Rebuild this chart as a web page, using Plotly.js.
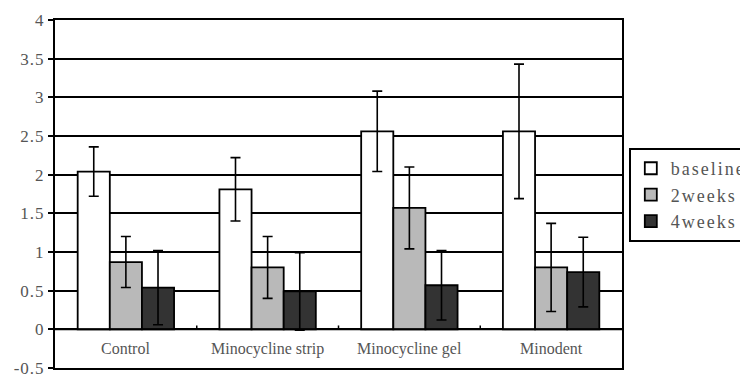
<!DOCTYPE html>
<html><head><meta charset="utf-8">
<script src="https://cdn.plot.ly/plotly-3.0.1.min.js"></script>
<style>
html,body{margin:0;padding:0;background:#fff}
#chart{width:740px;height:381px}
#chart text{font-family:"Liberation Serif",serif !important}
.ytick text{letter-spacing:1px}
.legendtext{letter-spacing:2px}
</style>
</head><body><div id="chart"></div>
<script>
const categories = ["Control", "Minocycline strip", "Minocycline gel", "Minodent"];
const seriesNames = ["baseline", "2weeks", "4weeks"];
const baseline = [2.04, 1.81, 2.56, 2.56];
const baselineErr = [0.32, 0.41, 0.52, 0.87];
const weeks2 = [0.87, 0.80, 1.57, 0.80];
const weeks2Err = [0.33, 0.40, 0.53, 0.57];
const weeks4 = [0.54, 0.49, 0.57, 0.74];
const weeks4Err = [0.48, 0.50, 0.45, 0.45];
const yTickVals = [-0.5, 0, 0.5, 1, 1.5, 2, 2.5, 3, 3.5, 4];
const yTickText = ["-0.5", "0", "0.5", "1", "1.5", "2", "2.5", "3", "3.5", "4"];

const serif = "Liberation Serif";
const fills = ["#ffffff", "#b9b9b9", "#333333"];
const vals = [baseline, weeks2, weeks4];
const errs = [baselineErr, weeks2Err, weeks4Err];
const xIdx = categories.map((c, i) => i);

const traces = seriesNames.map((n, k) => ({
  type: "bar", name: n, x: xIdx, y: vals[k],
  marker: {color: fills[k], line: {color: "#000", width: 1.8}},
  error_y: {type: "data", array: errs[k], visible: true, color: "#000", thickness: 1.6, width: 5}
}));

const annotations = categories.map((c, i) => ({
  x: i, y: -0.25, xref: "x", yref: "y", text: c, showarrow: false,
  font: {family: serif, size: 16, color: "#555"}
}));

const shapes = [
  {type: "line", xref: "paper", yref: "y", x0: 0, x1: 1, y0: 0, y1: 0, line: {color: "#000", width: 2}, layer: "above"}
];
[0.5, 1.5, 2.5].forEach(b => shapes.push({type: "line", xref: "x", yref: "y", x0: b, x1: b, y0: 0, y1: 0.05, line: {color: "#000", width: 1.5}}));

const layout = {
  width: 740, height: 381,
  font: {family: serif, size: 17, color: "#555"},
  margin: {l: 55, r: 118, t: 20, b: 13, autoexpand: false},
  paper_bgcolor: "#fff", plot_bgcolor: "#fff",
  barmode: "group", bargap: 0.32, bargroupgap: 0,
  showlegend: true,
  legend: {x: 1.012, y: 0.632, xanchor: "left", yanchor: "top",
    bordercolor: "#000", borderwidth: 2, bgcolor: "#fff",
    font: {family: serif, size: 18, color: "#555"}},
  xaxis: {range: [-0.5, 3.5], showticklabels: false, showgrid: false, zeroline: false,
    showline: true, mirror: true, linecolor: "#000", linewidth: 2, ticks: "", fixedrange: true},
  yaxis: {range: [-0.5, 4], tickvals: yTickVals, ticktext: yTickText,
    showgrid: true, gridcolor: "#000", gridwidth: 2, zeroline: false,
    showline: true, mirror: true, linecolor: "#000", linewidth: 2,
    ticks: "outside", ticklen: 5, tickcolor: "#000", tickwidth: 1.5,
    tickfont: {family: serif, size: 17, color: "#555"}, fixedrange: true},
  annotations: annotations, shapes: shapes
};
Plotly.newPlot("chart", traces, layout, {displayModeBar: false});
</script></body></html>
